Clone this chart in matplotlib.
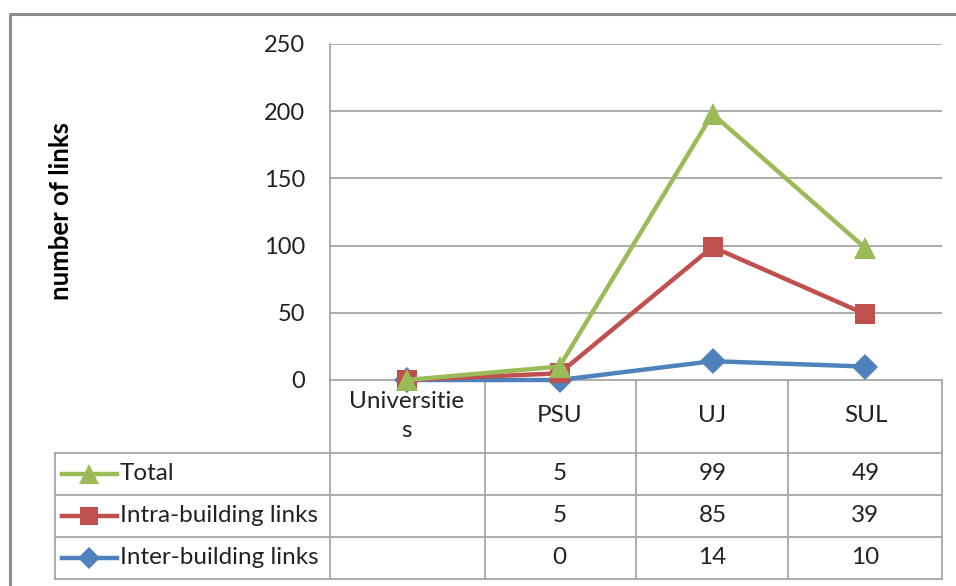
import matplotlib
matplotlib.use("Agg")
import matplotlib.pyplot as plt
from matplotlib.transforms import blended_transform_factory
import numpy as np

plt.rcParams['font.family'] = ['Lato', 'DejaVu Sans']

categories = ["Universities", "PSU", "UJ", "SUL"]
category_labels = ["Universitie\ns", "PSU", "UJ", "SUL"]
series_names = ["Total", "Intra-building links", "Inter-building links"]
total = [None, 5, 99, 49]
intra = [None, 5, 85, 39]
inter = [None, 0, 14, 10]
yticks = [0, 50, 100, 150, 200, 250]

colors = {"Total": "#9BBB59", "Intra-building links": "#C0504D", "Inter-building links": "#4F81BD"}
markers = {"Total": "^", "Intra-building links": "s", "Inter-building links": "D"}
msizes = {"Total": 16, "Intra-building links": 15, "Inter-building links": 13}

W, H = 956, 586
fig = plt.figure(figsize=(W / 100, H / 100), dpi=100)
fig.patch.set_facecolor("white")

def fx(px):
    return px / W

def fy(py):
    return 1 - py / H

# overlay axes in pixel coordinates
ov = fig.add_axes([0, 0, 1, 1])
ov.set_xlim(0, W)
ov.set_ylim(H, 0)
ov.axis("off")

PL, PR, PT, PB = 330, 942, 44, 380
ax = fig.add_axes([fx(PL), fy(PB), (PR - PL) / W, (PB - PT) / H])
ax.set_xlim(-0.5, len(categories) - 0.5)
ax.set_ylim(0, 250)
ax.set_yticks(yticks)
ax.set_yticklabels([str(v) for v in yticks], fontsize=17, color="#222222")
ax.tick_params(axis="y", length=0, pad=18)
ax.set_xticks([])
ax.grid(axis="y", color="#A6A6A6", linewidth=1.3)
ax.set_axisbelow(True)
for s in ["top", "right", "bottom"]:
    ax.spines[s].set_visible(False)
ax.spines["left"].set_color("#A6A6A6")
ax.spines["left"].set_linewidth(1.3)

# stacked line values (blank treated as zero)
def clean(v):
    return np.array([0 if x is None else x for x in v], dtype=float)

s_inter = clean(inter)
s_intra = s_inter + clean(intra)
s_total = s_intra + clean(total)
stacked = {"Inter-building links": s_inter, "Intra-building links": s_intra, "Total": s_total}
xs = np.arange(len(categories))
for z, name in enumerate(["Inter-building links", "Intra-building links", "Total"]):
    ax.plot(xs, stacked[name], color=colors[name], linewidth=3.2, marker=markers[name],
            markersize=msizes[name], markeredgewidth=0, clip_on=False, zorder=5 + z)

ax.set_ylabel("number of links", fontsize=18.5, fontweight="bold", labelpad=0)
ax.yaxis.set_label_coords((73 - PL) / (PR - PL), (PB - 211) / (PB - PT), transform=ax.transAxes)

# outer border
ov.plot([10, 10, 960], [600, 14, 14], color="#8C8C8C", linewidth=2.2, clip_on=False)

# table
gc = "#A6A6A6"
lw = 1.3
rows_y = [380, 453, 495, 537, 579]
TL = 55
ov.plot([PL, PL], [PB, rows_y[-1]], color=gc, lw=lw)
bounds = [PL, 485, 636, 788, PR]
for b in bounds[1:]:
    ov.plot([b, b], [380, rows_y[-1]], color=gc, lw=lw)
ov.plot([PL, PR], [380, 380], color=gc, lw=lw)
for y in rows_y[1:]:
    ov.plot([TL, PR], [y, y], color=gc, lw=lw)
ov.plot([TL, TL], [rows_y[1], rows_y[-1]], color=gc, lw=lw)

tr = blended_transform_factory(ax.transData, ov.transData)
for i, lab in enumerate(category_labels):
    ov.text(i, 416, lab, transform=tr, ha="center", va="center",
            fontsize=17.5, color="#222222", linespacing=1.45)

table_rows = [("Total", total), ("Intra-building links", intra), ("Inter-building links", inter)]
for r, (name, vals) in enumerate(table_rows):
    yc = (rows_y[r + 1] + rows_y[r + 2]) / 2
    ov.plot([62, 117], [yc, yc], color=colors[name], lw=3.2)
    ov.plot([89], [yc], marker=markers[name], color=colors[name], markersize=msizes[name] - 2,
            markeredgewidth=0)
    ov.text(120, yc, name, ha="left", va="center", fontsize=17.5, color="#222222")
    for i, v in enumerate(vals):
        ov.text(i, yc, "" if v is None else str(v), transform=tr, ha="center", va="center",
                fontsize=17.5, color="#222222")

fig.savefig("out.png", dpi=100, facecolor="white")
